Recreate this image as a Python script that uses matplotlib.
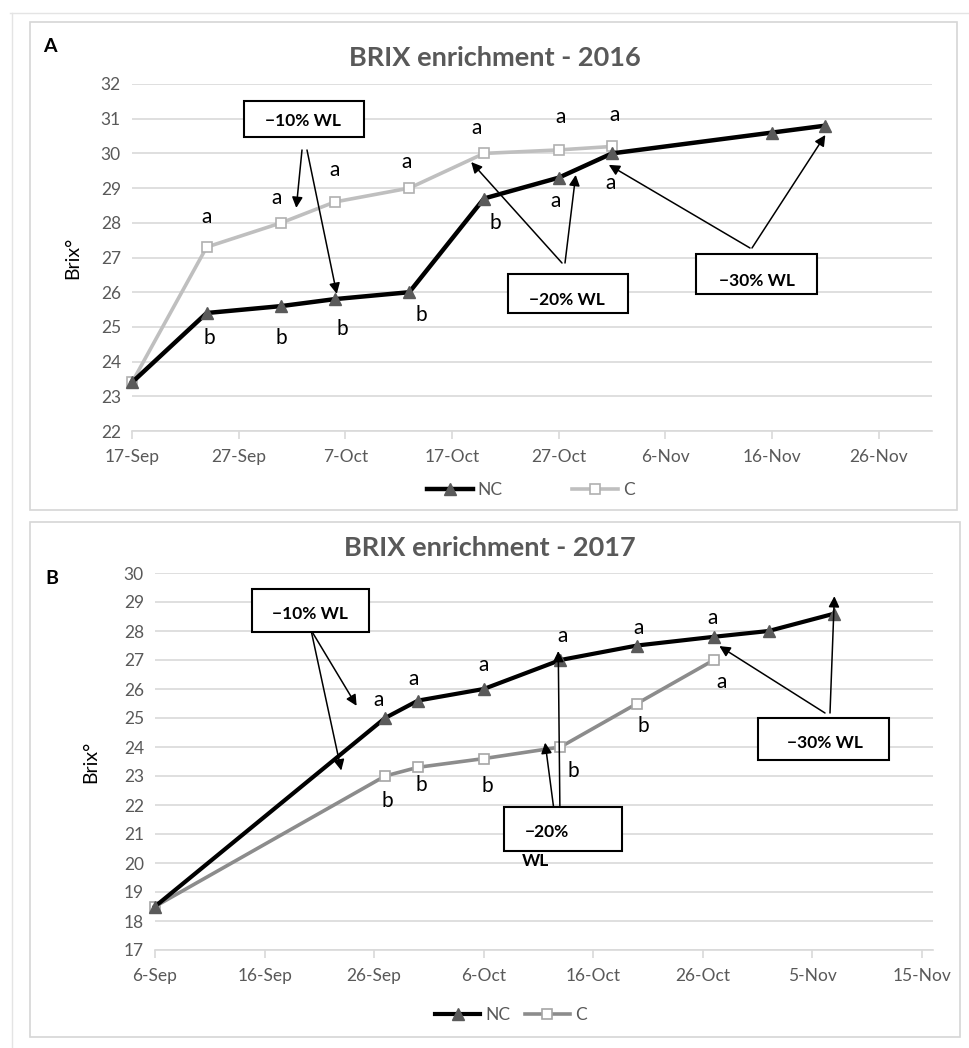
import numpy as np
import pandas as pd
import matplotlib
matplotlib.use('Agg')
import matplotlib.pyplot as plt
import matplotlib.dates as mdates
from matplotlib.patches import Rectangle
from matplotlib.lines import Line2D

plt.rcParams['font.family'] = ['Lato', 'DejaVu Sans']

# 2016 season
dates_nc_16 = ['2016-09-17', '2016-09-24', '2016-10-01', '2016-10-06', '2016-10-13',
               '2016-10-20', '2016-10-27', '2016-11-01', '2016-11-16', '2016-11-21']
brix_nc_16 = [23.4, 25.4, 25.6, 25.8, 26.0, 28.7, 29.3, 30.0, 30.6, 30.8]
dates_c_16 = dates_nc_16[:8]
brix_c_16 = [23.4, 27.3, 28.0, 28.6, 29.0, 30.0, 30.1, 30.2]
let_nc_16 = ['', 'b', 'b', 'b', 'b', 'b', 'a', 'a', '', '']
let_c_16 = ['', 'a', 'a', 'a', 'a', 'a', 'a', 'a']

# 2017 season
dates_nc_17 = ['2017-09-06', '2017-09-27', '2017-09-30', '2017-10-06', '2017-10-13',
               '2017-10-20', '2017-10-27', '2017-11-01', '2017-11-07']
brix_nc_17 = [18.5, 25.0, 25.6, 26.0, 27.0, 27.5, 27.8, 28.0, 28.6]
dates_c_17 = dates_nc_17[:7]
brix_c_17 = [18.5, 23.0, 23.3, 23.6, 24.0, 25.5, 27.0]
let_nc_17 = ['', 'a', 'a', 'a', 'a', 'a', 'a', '', '']
let_c_17 = ['', 'b', 'b', 'b', 'b', 'b', 'a']

W, H = 970, 1048
fig = plt.figure(figsize=(W / 100, H / 100), dpi=100)

GRAY_TXT = '#595959'
GRID = '#d9d9d9'


def fp(x, y):
    # top-left pixel -> figure pixels
    return (x, H - y)


def ff(x, y):
    return (x / W, 1 - y / H)


# page edge and panel frames
fig.add_artist(Line2D([10 / W, 1], [1 - 13 / H] * 2, color='#e4e4e4', lw=1))
fig.add_artist(Line2D([12 / W] * 2, [0, 1 - 13 / H], color='#e4e4e4', lw=1))
for (x0, y0, x1, y1) in [(30, 22, 957, 510), (30, 522, 960, 1037)]:
    fig.add_artist(Rectangle(ff(x0, y1), (x1 - x0) / W, (y1 - y0) / H,
                             transform=fig.transFigure, fill=False,
                             edgecolor='#d6d6d6', lw=1.2))


def setup(ax, start, end, ylo, yhi):
    ax.set_xlim(pd.Timestamp(start), pd.Timestamp(end))
    ax.set_ylim(ylo, yhi)
    ax.set_yticks(range(ylo, yhi + 1))
    ticks = pd.date_range(start, end, freq='10D')
    ax.set_xticks(ticks)
    ax.set_xticklabels([f'{d.day}-{d.strftime("%b")}' for d in ticks])
    ax.grid(axis='y', color=GRID, lw=1.2)
    ax.set_axisbelow(True)
    for s in ['top', 'right', 'left']:
        ax.spines[s].set_visible(False)
    ax.spines['bottom'].set_color(GRID)
    ax.spines['bottom'].set_linewidth(1.2)
    ax.tick_params(axis='y', length=0, labelsize=12.5, labelcolor=GRAY_TXT, pad=8)
    ax.tick_params(axis='x', length=6, color=GRID, width=1.2, labelsize=12.5,
                   labelcolor=GRAY_TXT, pad=7)


def letters(ax, dates, vals, labs, offs):
    for d, v, t, o in zip(dates, vals, labs, offs):
        if t:
            ax.annotate(t, (pd.Timestamp(d), v), xytext=o, textcoords='offset pixels',
                        ha='center', va='center', fontsize=15, color='black')


def wl_box(x0, y0, x1, y1):
    fig.add_artist(Rectangle(ff(x0, y1), (x1 - x0) / W, (y1 - y0) / H,
                             transform=fig.transFigure, facecolor='white',
                             edgecolor='black', lw=1.5, zorder=5))


def arrow(ax, start, day, val, tail):
    x = mdates.date2num(pd.Timestamp(start)) + day
    ax.annotate('', xy=(x, val), xycoords='data', xytext=fp(*tail),
                textcoords='figure pixels',
                arrowprops=dict(arrowstyle='-|>', color='black', lw=1.1,
                                mutation_scale=16, shrinkA=0, shrinkB=0),
                zorder=6)


def box_text(x, y, s):
    fig.text(x / W, 1 - y / H, s, ha='center', va='center', fontsize=12.5,
             fontweight='bold', zorder=7)


# ---- panel A ----
axA = fig.add_axes([132 / W, 1 - 431 / H, 800 / W, 347 / H])
setup(axA, '2016-09-17', '2016-12-01', 22, 32)
axA.plot(pd.to_datetime(dates_c_16), brix_c_16, color='#bfbfbf', lw=2.6,
         marker='s', ms=7, mfc='white', mec='#b0b0b0', mew=1.2, label='C',
         clip_on=False, zorder=3)
axA.plot(pd.to_datetime(dates_nc_16), brix_nc_16, color='black', lw=3.2,
         marker='^', ms=8, mfc='#5a5a5a', mec='#5a5a5a', label='NC',
         clip_on=False, zorder=4)
letters(axA, dates_c_16, brix_c_16, let_c_16,
        [(0, 0), (0, 30), (-5, 25), (0, 32), (-3, 26), (-7, 25), (2, 33), (3, 31)])
letters(axA, dates_nc_16, brix_nc_16, let_nc_16,
        [(0, 0), (3, -25), (0, -32), (8, -30), (12, -23), (11, -24), (-3, -23),
         (-1, -30), (0, 0), (0, 0)])
axA.set_ylabel('Brix°', fontsize=14, labelpad=14)
h = axA.get_legend_handles_labels()
axA.legend(h[0][::-1], h[1][::-1], loc='center', bbox_to_anchor=(531 / W, 1 - 490 / H),
           bbox_transform=fig.transFigure, ncol=2, frameon=False, fontsize=12.5,
           labelcolor=GRAY_TXT, handlelength=2.6, columnspacing=4.0,
           handletextpad=0.3)
fig.text(495 / W, 1 - 58 / H, 'BRIX enrichment - 2016', ha='center', va='center',
         fontsize=19.5, fontweight='bold', color=GRAY_TXT)
fig.text(50 / W, 1 - 47 / H, 'A', ha='center', va='center', fontsize=14,
         fontweight='bold')

wl_box(244, 101, 364, 137)
box_text(303, 121, '−10% WL')
arrow(axA, '2016-09-17', 15.4, 28.43, (302, 150))
arrow(axA, '2016-09-17', 19.2, 25.95, (307, 150))
wl_box(508, 274, 628, 313)
box_text(567, 300, '−20% WL')
arrow(axA, '2016-09-17', 31.8, 29.75, (562, 263))
arrow(axA, '2016-09-17', 41.6, 29.38, (565, 263))
wl_box(696, 254, 817, 294)
box_text(757, 281, '−30% WL')
arrow(axA, '2016-09-17', 44.7, 29.67, (750, 248))
arrow(axA, '2016-09-17', 65.0, 30.53, (752, 248))

# ---- panel B ----
axB = fig.add_axes([155 / W, 1 - 950 / H, 778 / W, 377 / H])
setup(axB, '2017-09-06', '2017-11-16', 17, 30)
axB.plot(pd.to_datetime(dates_c_17), brix_c_17, color='#8c8c8c', lw=2.6,
         marker='s', ms=7, mfc='white', mec='#a6a6a6', mew=1.2, label='C',
         clip_on=False, zorder=3)
axB.plot(pd.to_datetime(dates_nc_17), brix_nc_17, color='black', lw=3.0,
         marker='^', ms=8, mfc='#5a5a5a', mec='#5a5a5a', label='NC',
         clip_on=False, zorder=4)
letters(axB, dates_nc_17, brix_nc_17, let_nc_17,
        [(0, 0), (-7, 18), (-4, 22), (0, 24), (2, 24), (1, 18), (-1, 19), (0, 0), (0, 0)])
letters(axB, dates_c_17, brix_c_17, let_c_17,
        [(0, 0), (2, -25), (3, -18), (4, -27), (13, -24), (6, -23), (8, -22)])
axB.set_ylabel('Brix°', fontsize=14, labelpad=18)
h = axB.get_legend_handles_labels()
axB.legend(h[0][::-1], h[1][::-1], loc='center', bbox_to_anchor=(511 / W, 1 - 1015 / H),
           bbox_transform=fig.transFigure, ncol=2, frameon=False, fontsize=12.5,
           labelcolor=GRAY_TXT, handlelength=2.6, columnspacing=0.8,
           handletextpad=0.3)
fig.text(490 / W, 1 - 548 / H, 'BRIX enrichment - 2017', ha='center', va='center',
         fontsize=19.5, fontweight='bold', color=GRAY_TXT)
fig.text(52 / W, 1 - 578 / H, 'B', ha='center', va='center', fontsize=14,
         fontweight='bold')

wl_box(252, 589, 369, 632)
box_text(310, 614, '−10% WL')
arrow(axB, '2017-09-06', 18.4, 25.42, (311, 630))
arrow(axB, '2017-09-06', 17.0, 23.19, (311, 630))
wl_box(504, 807, 622, 851)
box_text(547, 832, '−20%')
box_text(535, 861, 'WL')
arrow(axB, '2017-09-06', 35.6, 24.15, (555, 818))
arrow(axB, '2017-09-06', 36.8, 27.31, (560, 818))
wl_box(758, 718, 889, 760)
box_text(825, 743, '−30% WL')
arrow(axB, '2017-09-06', 51.5, 27.48, (825, 713))
arrow(axB, '2017-09-06', 62.0, 29.2, (830, 713))

fig.savefig('out.png', dpi=100)
